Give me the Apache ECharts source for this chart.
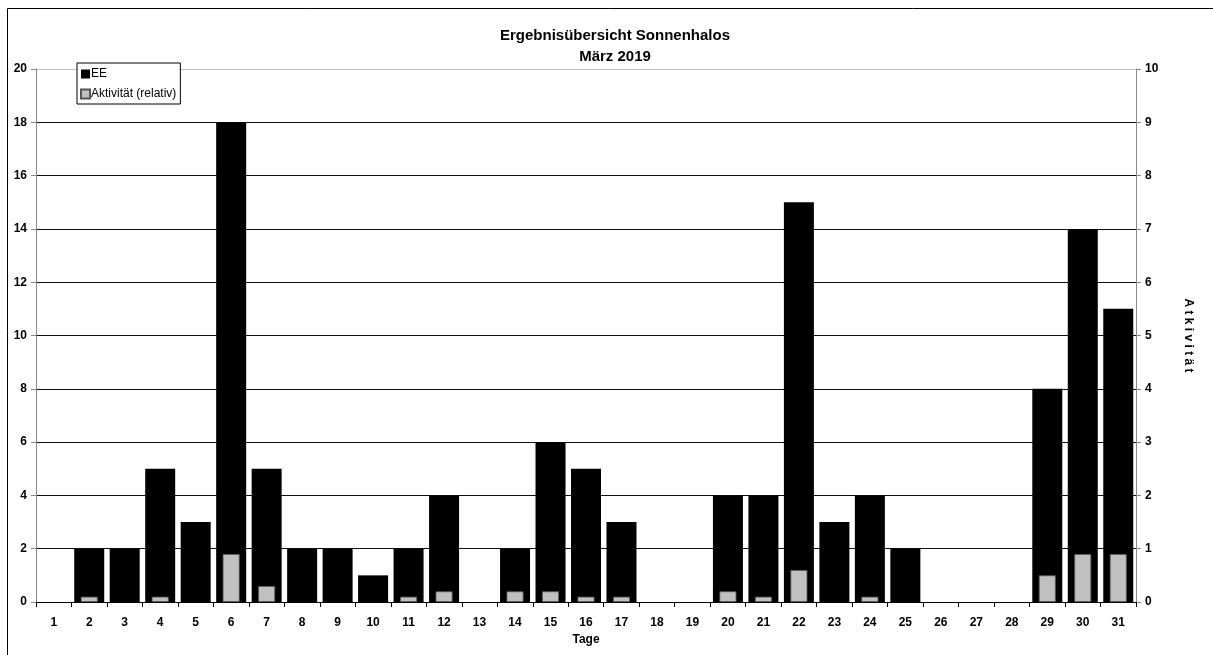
<!DOCTYPE html>
<html><head><meta charset="utf-8">
<script src="https://cdn.jsdelivr.net/npm/echarts@6/dist/echarts.min.js"></script>
<style>html,body{margin:0;padding:0;background:#fff}#c{width:1213px;height:655px}</style>
</head><body><div id="c"></div>
<script>
var days = ['1','2','3','4','5','6','7','8','9','10','11','12','13','14','15','16','17','18','19','20','21','22','23','24','25','26','27','28','29','30','31'];
var ee = [0,2,2,5,3,18,5,2,2,1,2,4,0,2,6,5,3,0,0,4,4,15,3,4,2,0,0,0,8,14,11];
var aktiv = [0,0.1,0,0.1,0,0.9,0.3,0,0,0,0.1,0.2,0,0.2,0.2,0.1,0.1,0,0,0.2,0.1,0.6,0,0.1,0,0,0,0,0.5,0.9,0.9];
var titleLines = ['Ergebnisübersicht Sonnenhalos','März 2019'];

var chart = echarts.init(document.getElementById('c'), null, {renderer:'canvas'});
var F = 'Arial, "Liberation Sans", sans-serif';
var gridColors = [];
for (var i = 0; i < 10; i++) gridColors.push('#111');
gridColors.push('#c0c0c0');
function noZero(arr){ return arr.map(function(v){ return v === 0 ? null : v; }); }
chart.setOption({
  animation:false,
  backgroundColor:'#fff',
  textStyle:{fontFamily:F},
  title:{
    text: titleLines.join('\n'),
    left:610, top:20, textAlign:'center',
    textStyle:{fontFamily:F,fontSize:15,fontWeight:'bold',color:'#000',lineHeight:21}
  },
  legend:{
    orient:'vertical', left:77, top:63,
    data:['EE','Aktivität (relativ)'],
    backgroundColor:'#fff', borderColor:'#000', borderWidth:1, borderRadius:0,
    padding:[5,4,4,3], itemWidth:9, itemHeight:9, itemGap:8,
    icon:'rect',
    textStyle:{fontFamily:F,fontSize:12,color:'#000',padding:[0,0,0,-4]}
  },
  grid:{left:36,right:77,top:69,bottom:53,containLabel:false,outerBoundsMode:'none'},
  xAxis:[{
    type:'category', data:days, name:'Tage', nameLocation:'middle', nameGap:29,
    nameTextStyle:{fontFamily:F,fontSize:12,fontWeight:'bold',color:'#000'},
    axisLine:{lineStyle:{color:'#000',width:1}},
    axisTick:{show:true,length:5,lineStyle:{color:'#000'}},
    axisLabel:{fontFamily:F,fontSize:12,fontWeight:'bold',color:'#000',margin:15},
    splitLine:{show:false}
  },{
    type:'category', data:days, show:false, position:'bottom'
  }],
  yAxis:[{
    type:'value', min:0, max:20, interval:2, position:'left',
    name:'EE', nameLocation:'middle', nameGap:8, nameRotate:90,
    nameTextStyle:{fontFamily:F,fontSize:11,fontWeight:'bold',color:'#000'},
    axisLine:{show:true,lineStyle:{color:'#888'}},
    axisTick:{show:true,length:5,lineStyle:{color:'#888'}},
    axisLabel:{fontFamily:F,fontSize:12,fontWeight:'bold',color:'#000',margin:9},
    splitLine:{show:true,lineStyle:{color:gridColors,width:1}}
  },{
    type:'value', min:0, max:10, interval:1, position:'right',
    name:'A t k i v i t ä t', nameLocation:'middle', nameGap:46, nameRotate:-90,
    nameTextStyle:{fontFamily:F,fontSize:12,fontWeight:'bold',color:'#000'},
    axisLine:{show:true,lineStyle:{color:'#888'}},
    axisTick:{show:true,length:5,lineStyle:{color:'#888'}},
    axisLabel:{fontFamily:F,fontSize:12,fontWeight:'bold',color:'#000',margin:9},
    splitLine:{show:false}
  }],
  series:[{
    name:'EE', type:'bar', xAxisIndex:0, yAxisIndex:0, data:noZero(ee),
    barWidth:30, itemStyle:{color:'#000',borderColor:'#000',borderWidth:0}
  },{
    name:'Aktivität (relativ)', type:'bar', xAxisIndex:1, yAxisIndex:1, data:noZero(aktiv),
    barWidth:17, z:3, itemStyle:{color:'#c0c0c0',borderColor:'#555',borderWidth:0.8}
  }],
  graphic:[{
    type:'polyline', silent:true,
    shape:{points:[[7.5,660],[7.5,8.5],[1220,8.5]]},
    style:{stroke:'#000',lineWidth:1,fill:null}
  }]
});
</script></body></html>
